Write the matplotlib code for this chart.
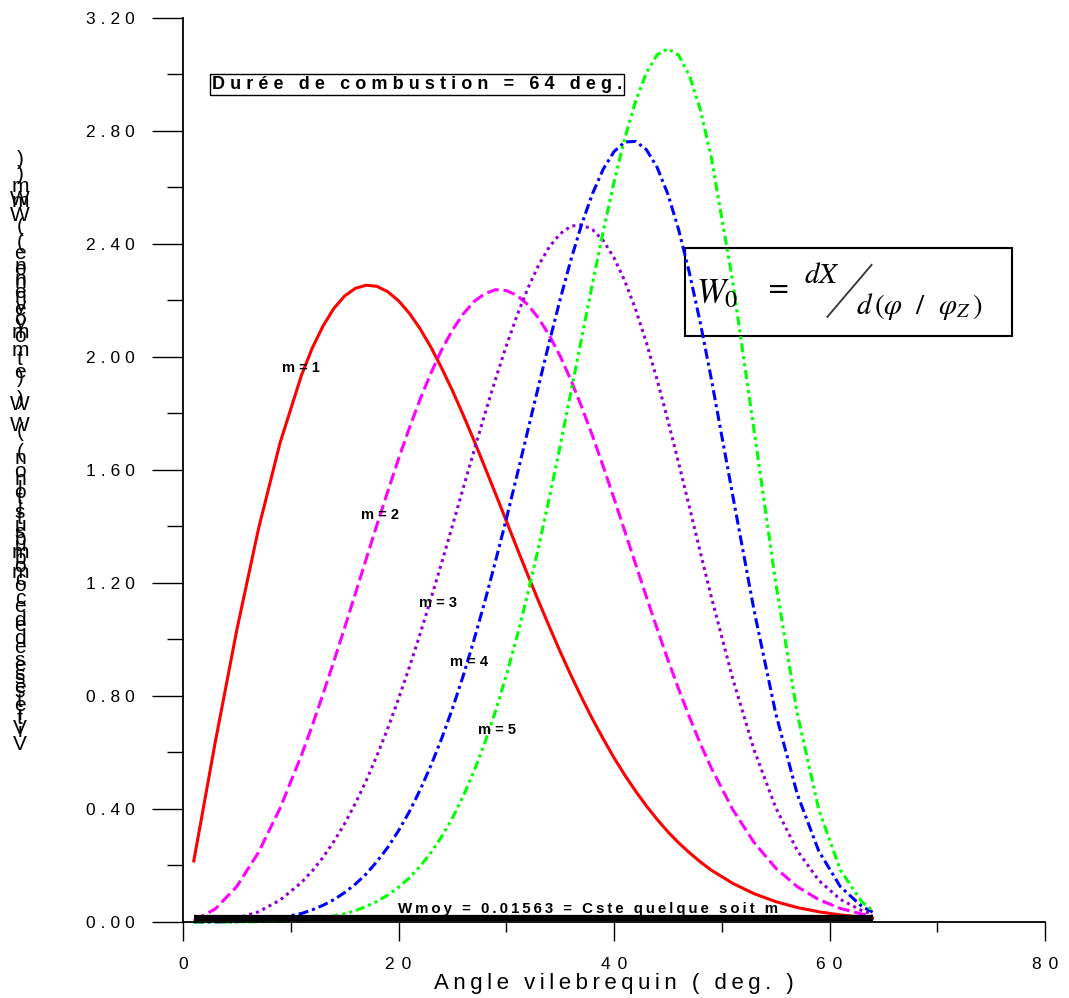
import matplotlib
matplotlib.use("Agg")
import matplotlib.pyplot as plt
from matplotlib.patches import Rectangle
from matplotlib.lines import Line2D
from matplotlib.ticker import FixedLocator

plt.rcParams['font.family'] = ['Liberation Sans', 'DejaVu Sans']
plt.rcParams['mathtext.fontset'] = 'stix'

# crank angle (deg.) and normalised Wiebe rates for m = 1..5
angle = [1, 3, 5, 7, 9, 11,
         12, 13, 14, 15, 16, 17, 18, 19, 20, 21, 22, 23, 24, 25, 26, 27, 28, 29, 30,
         31, 32, 33, 34, 35, 36, 37, 38, 39, 40, 41, 42, 43, 44, 45, 46, 47, 48, 49,
         51, 53, 55, 57, 59, 61, 63, 64]
w_m1 = [0.216, 0.638, 1.035, 1.391, 1.695, 1.936,
        2.032, 2.110, 2.172, 2.216, 2.243, 2.254, 2.250, 2.231, 2.199, 2.155, 2.100, 2.035,
        1.961, 1.881, 1.795, 1.705, 1.611, 1.516, 1.420, 1.323, 1.228, 1.135, 1.045, 0.957,
        0.873, 0.794, 0.718, 0.648, 0.581, 0.520, 0.463, 0.411, 0.363, 0.319, 0.280, 0.245,
        0.213, 0.184,
        0.137, 0.100, 0.072, 0.051, 0.036, 0.025, 0.017, 0.014]
w_m2 = [0.005, 0.046, 0.126, 0.246, 0.402, 0.591,
        0.696, 0.807, 0.923, 1.042, 1.163, 1.285, 1.406, 1.524, 1.639, 1.748, 1.850, 1.942,
        2.025, 2.095, 2.152, 2.196, 2.224, 2.238, 2.235, 2.218, 2.185, 2.137, 2.076, 2.003,
        1.918, 1.823, 1.721, 1.612, 1.499, 1.383, 1.267, 1.151, 1.038, 0.928, 0.824, 0.725,
        0.632, 0.547,
        0.399, 0.281, 0.191, 0.125, 0.079, 0.048, 0.028, 0.021]
w_m3 = [0.000, 0.003, 0.013, 0.036, 0.077, 0.140,
        0.181, 0.229, 0.285, 0.348, 0.420, 0.500, 0.589, 0.685, 0.790, 0.901, 1.019, 1.143,
        1.271, 1.402, 1.535, 1.667, 1.797, 1.921, 2.039, 2.147, 2.243, 2.325, 2.390, 2.436,
        2.463, 2.468, 2.451, 2.412, 2.351, 2.269, 2.169, 2.051, 1.919, 1.775, 1.624, 1.468,
        1.310, 1.155,
        0.863, 0.609, 0.405, 0.253, 0.147, 0.080, 0.040, 0.028]
w_m4 = [0.000, 0.000, 0.001, 0.005, 0.014, 0.030,
        0.043, 0.059, 0.079, 0.104, 0.134, 0.170, 0.214, 0.264, 0.323, 0.390, 0.467, 0.553,
        0.649, 0.755, 0.871, 0.998, 1.133, 1.277, 1.426, 1.582, 1.740, 1.898, 2.054, 2.204,
        2.344, 2.470, 2.578, 2.665, 2.727, 2.761, 2.763, 2.734, 2.671, 2.576, 2.450, 2.297,
        2.122, 1.928,
        1.513, 1.102, 0.739, 0.453, 0.251, 0.125, 0.055, 0.035]
w_m5 = [0.000, 0.000, 0.000, 0.001, 0.002, 0.006,
        0.010, 0.014, 0.021, 0.029, 0.040, 0.055, 0.073, 0.095, 0.123, 0.156, 0.197, 0.245,
        0.302, 0.368, 0.445, 0.533, 0.633, 0.746, 0.872, 1.011, 1.163, 1.327, 1.502, 1.685,
        1.876, 2.068, 2.260, 2.445, 2.619, 2.774, 2.905, 3.006, 3.070, 3.091, 3.068, 2.996,
        2.876, 2.712,
        2.271, 1.739, 1.202, 0.739, 0.398, 0.184, 0.071, 0.041]

w_moy = 0.01563
duree = 64

x_ticks = [0, 20, 40, 60, 80]
y_ticks = [0.0, 0.4, 0.8, 1.2, 1.6, 2.0, 2.4, 2.8, 3.2]

# m label anchors (angle, W)
lab_x = [10.9, 18.3, 23.7, 26.5, 29.1]
lab_y = [1.96, 1.44, 1.13, 0.92, 0.68]


def spaced(s, sp='\u2009'):
    return sp.join(s)


fig = plt.figure(figsize=(10.69, 9.98), dpi=100)
ax = fig.add_axes([0.1712, 0.0762, 0.8064, 0.9058])

curves = [w_m1, w_m2, w_m3, w_m4, w_m5]
colors = ['#ff0000', '#ff00ff', '#9400d3', '#0000ff', '#00ff00']
dashes = [None, (3.9, 1.6), (1.0, 1.3), (3.3, 1.3, 1.0, 1.3), (3.0, 1.3, 1.0, 1.3, 1.0, 1.3)]

for w, c, d in zip(curves, colors, dashes):
    line, = ax.plot(angle, w, color=c, lw=2.2, clip_on=False)
    if d is not None:
        line.set_dashes(d)

# mean rate over the combustion duration
ax.plot([angle[0], duree], [w_moy, w_moy], color='black', lw=4.5, solid_capstyle='butt',
        clip_on=False)
ax.text(37.6, 0.047, spaced('Wmoy = 0.01563 = Cste quelque soit m'), ha='center',
        va='center', fontsize=10.8, fontweight='bold')

for i in range(5):
    ax.text(lab_x[i], lab_y[i], 'm = %d' % (i + 1), ha='center', va='center',
            fontsize=10.5, fontweight='bold')

ax.text(21.7, 2.965, spaced('Durée de combustion = %d deg.' % duree, '\u2009\u200a'),
        ha='center', va='center', fontsize=13, fontweight='bold',
        bbox=dict(boxstyle='square,pad=0.12', fc='none', ec='black', lw=1))

# formula box
ax.add_patch(Rectangle((46.6, 2.074), 30.3, 0.312, fill=False, ec='black', lw=1.5,
                       clip_on=False))
ax.text(47.6, 2.225, r'$W_0$', ha='left', va='center', fontsize=25)
ax.text(55.3, 2.235, '=', ha='center', va='center', fontsize=20, family='DejaVu Serif')
ax.text(59.3, 2.29, r'$dX$', ha='center', va='center', fontsize=21)
ax.add_line(Line2D([59.8, 63.9], [2.142, 2.326], color='#333333', lw=1.3))
ax.text(68.3, 2.18, r'$d\,\left(\varphi\ \ /\ \ \varphi_Z\,\right)$', ha='center',
        va='center', fontsize=21)

ax.set_xlim(0, 80)
ax.set_ylim(0, 3.2)
for s in ['top', 'right']:
    ax.spines[s].set_visible(False)
ax.spines['left'].set_linewidth(1.3)
ax.spines['bottom'].set_linewidth(1.3)

ax.xaxis.set_major_locator(FixedLocator(x_ticks))
ax.xaxis.set_minor_locator(FixedLocator([10, 30, 50, 70]))
ax.set_xticklabels([spaced(str(v), '\u2009\u2009') for v in x_ticks], fontsize=12.5)
ax.yaxis.set_major_locator(FixedLocator(y_ticks))
ax.yaxis.set_minor_locator(FixedLocator([0.2, 0.6, 1.0, 1.4, 1.8, 2.2, 2.6, 3.0]))
ax.set_yticklabels([spaced('%.2f' % v, '\u2009\u200a') for v in y_ticks], fontsize=12.5)

ax.tick_params(axis='x', which='major', direction='out', length=14, width=1, pad=11)
ax.tick_params(axis='x', which='minor', direction='out', length=7.5, width=1)
ax.tick_params(axis='y', which='major', direction='out', length=22, width=1, pad=13)
ax.tick_params(axis='y', which='minor', direction='out', length=11.5, width=1)

ax.set_xlabel(spaced('Angle vilebrequin ( deg. )'), fontsize=16, labelpad=1)

# vertical axis title stacked letter by letter
lab_a = 'Vitesse de combustion ( W ) et moyenne ( Wm )'
lab_b = 'Vitesse de combustion ( W ) moyenne ( Wm )'
for txt, bottom, top in [(lab_a, 745, 160), (lab_b, 728, 175)]:
    n = len(txt)
    step = (bottom - top) / (n - 1)
    for i, ch in enumerate(txt):
        py = bottom - i * step
        fig.text(20 / 1069, 1 - py / 998, ch, ha='center', va='center', fontsize=15)

fig.savefig('out.png', dpi=100)
